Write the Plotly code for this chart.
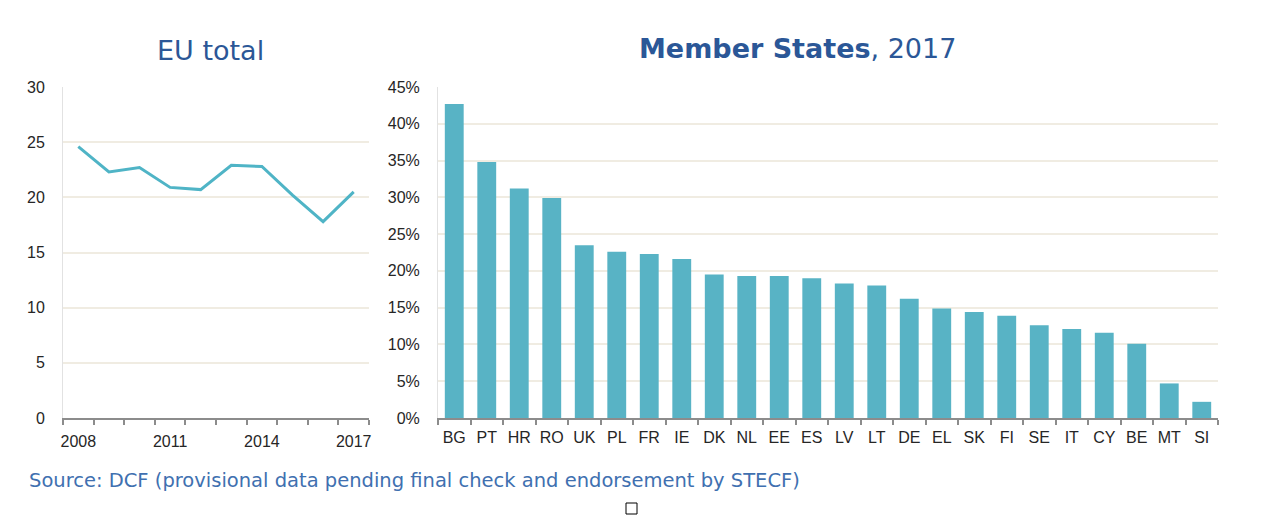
import plotly.graph_objects as go

W, H = 1264, 532
OFF = 8  # page body margin pushes the figure right and down

years = [2008, 2009, 2010, 2011, 2012, 2013, 2014, 2015, 2016, 2017]
eu_total = [24.6, 22.3, 22.7, 20.9, 20.7, 22.9, 22.8, 20.2, 17.8, 20.5]
year_labels = ["2008", "2011", "2014", "2017"]

states = ["BG", "PT", "HR", "RO", "UK", "PL", "FR", "IE", "DK", "NL", "EE", "ES",
          "LV", "LT", "DE", "EL", "SK", "FI", "SE", "IT", "CY", "BE", "MT", "SI"]
share_2017 = [42.7, 34.8, 31.2, 29.9, 23.5, 22.6, 22.3, 21.6, 19.5, 19.3, 19.3, 19.0,
              18.3, 18.0, 16.2, 14.9, 14.4, 13.9, 12.6, 12.1, 11.6, 10.1, 4.7, 2.2]

TEAL_LINE = "#4fb4c6"
TEAL_BAR = "#58b3c5"
TITLE_BLUE = "#2b5797"
SOURCE_BLUE = "#4070b0"
GRID = "#f0ece2"
TICK_FONT = dict(family="Liberation Sans, Arial, sans-serif", size=16, color="#262626")


def px_x(p):
    return (p - OFF) / W


def px_y(p):
    return 1 - (p - OFF) / H


fig = go.Figure()

fig.add_trace(go.Scatter(
    x=years, y=eu_total, mode="lines",
    line=dict(color=TEAL_LINE, width=3),
    xaxis="x", yaxis="y", showlegend=False,
))

fig.add_trace(go.Bar(
    x=states, y=share_2017,
    marker=dict(color=TEAL_BAR, line=dict(width=0)),
    xaxis="x2", yaxis="y2", showlegend=False,
))

y_dom = [px_y(418), px_y(87)]

fig.update_layout(
    width=W, height=H,
    margin=dict(l=0, r=0, t=0, b=0, autoexpand=False),
    paper_bgcolor="white", plot_bgcolor="white",
    bargap=0.42,
    xaxis=dict(
        domain=[px_x(63), px_x(369)], automargin=False,
        range=[2007.5, 2017.5],
        tickvals=[int(y) for y in year_labels], ticktext=year_labels,
        ticks="", showgrid=False, tickangle=0,
        showline=True, linecolor="#8c8c8c", linewidth=1.5,
        minor=dict(ticks="outside", ticklen=5, tickwidth=1.5, tickcolor="#8c8c8c",
                   tick0=2007.5, dtick=1, showgrid=False),
        tickfont=TICK_FONT, ticklabelstandoff=8,
    ),
    yaxis=dict(
        domain=y_dom, range=[0, 30], dtick=5, automargin=False,
        showgrid=True, gridcolor=GRID, gridwidth=1.5,
        showline=True, linecolor="#e2e2e2", linewidth=1,
        zeroline=False, ticks="",
        tickfont=TICK_FONT, ticklabelstandoff=14,
    ),
    xaxis2=dict(
        domain=[px_x(438), px_x(1218)], anchor="y2", automargin=False,
        type="category", tickangle=0,
        ticks="outside", tickson="boundaries", ticklen=5, tickwidth=1.5,
        tickcolor="#8c8c8c",
        showline=True, linecolor="#8c8c8c", linewidth=1.5,
        tickfont=TICK_FONT, ticklabelstandoff=4,
    ),
    yaxis2=dict(
        domain=y_dom, anchor="x2", range=[0, 45], dtick=5, automargin=False,
        ticksuffix="%",
        showgrid=True, gridcolor=GRID, gridwidth=1.5,
        showline=True, linecolor="#e2e2e2", linewidth=1,
        zeroline=False, ticks="",
        tickfont=TICK_FONT, ticklabelstandoff=14,
    ),
    annotations=[
        dict(text="EU total", x=px_x(210), y=px_y(51), xref="paper", yref="paper",
             xanchor="center", yanchor="middle", showarrow=False,
             font=dict(family="DejaVu Sans, Verdana, sans-serif", size=27, color=TITLE_BLUE)),
        dict(text="<b>Member States</b>, 2017", x=px_x(797), y=px_y(49),
             xref="paper", yref="paper", xanchor="center", yanchor="middle",
             showarrow=False,
             font=dict(family="DejaVu Sans, Verdana, sans-serif", size=27, color=TITLE_BLUE)),
        dict(text="Source: DCF (provisional data pending final check and endorsement by STECF)",
             x=px_x(27), y=px_y(480), xref="paper", yref="paper",
             xanchor="left", yanchor="middle", showarrow=False,
             font=dict(family="DejaVu Sans, Verdana, sans-serif", size=19.5, color=SOURCE_BLUE)),
    ],
    shapes=[
        dict(type="rect", xref="paper", yref="paper",
             x0=px_x(626), x1=px_x(637), y0=px_y(514), y1=px_y(503),
             line=dict(color="black", width=1), fillcolor="white"),
    ],
)

fig.write_html("out.html")
